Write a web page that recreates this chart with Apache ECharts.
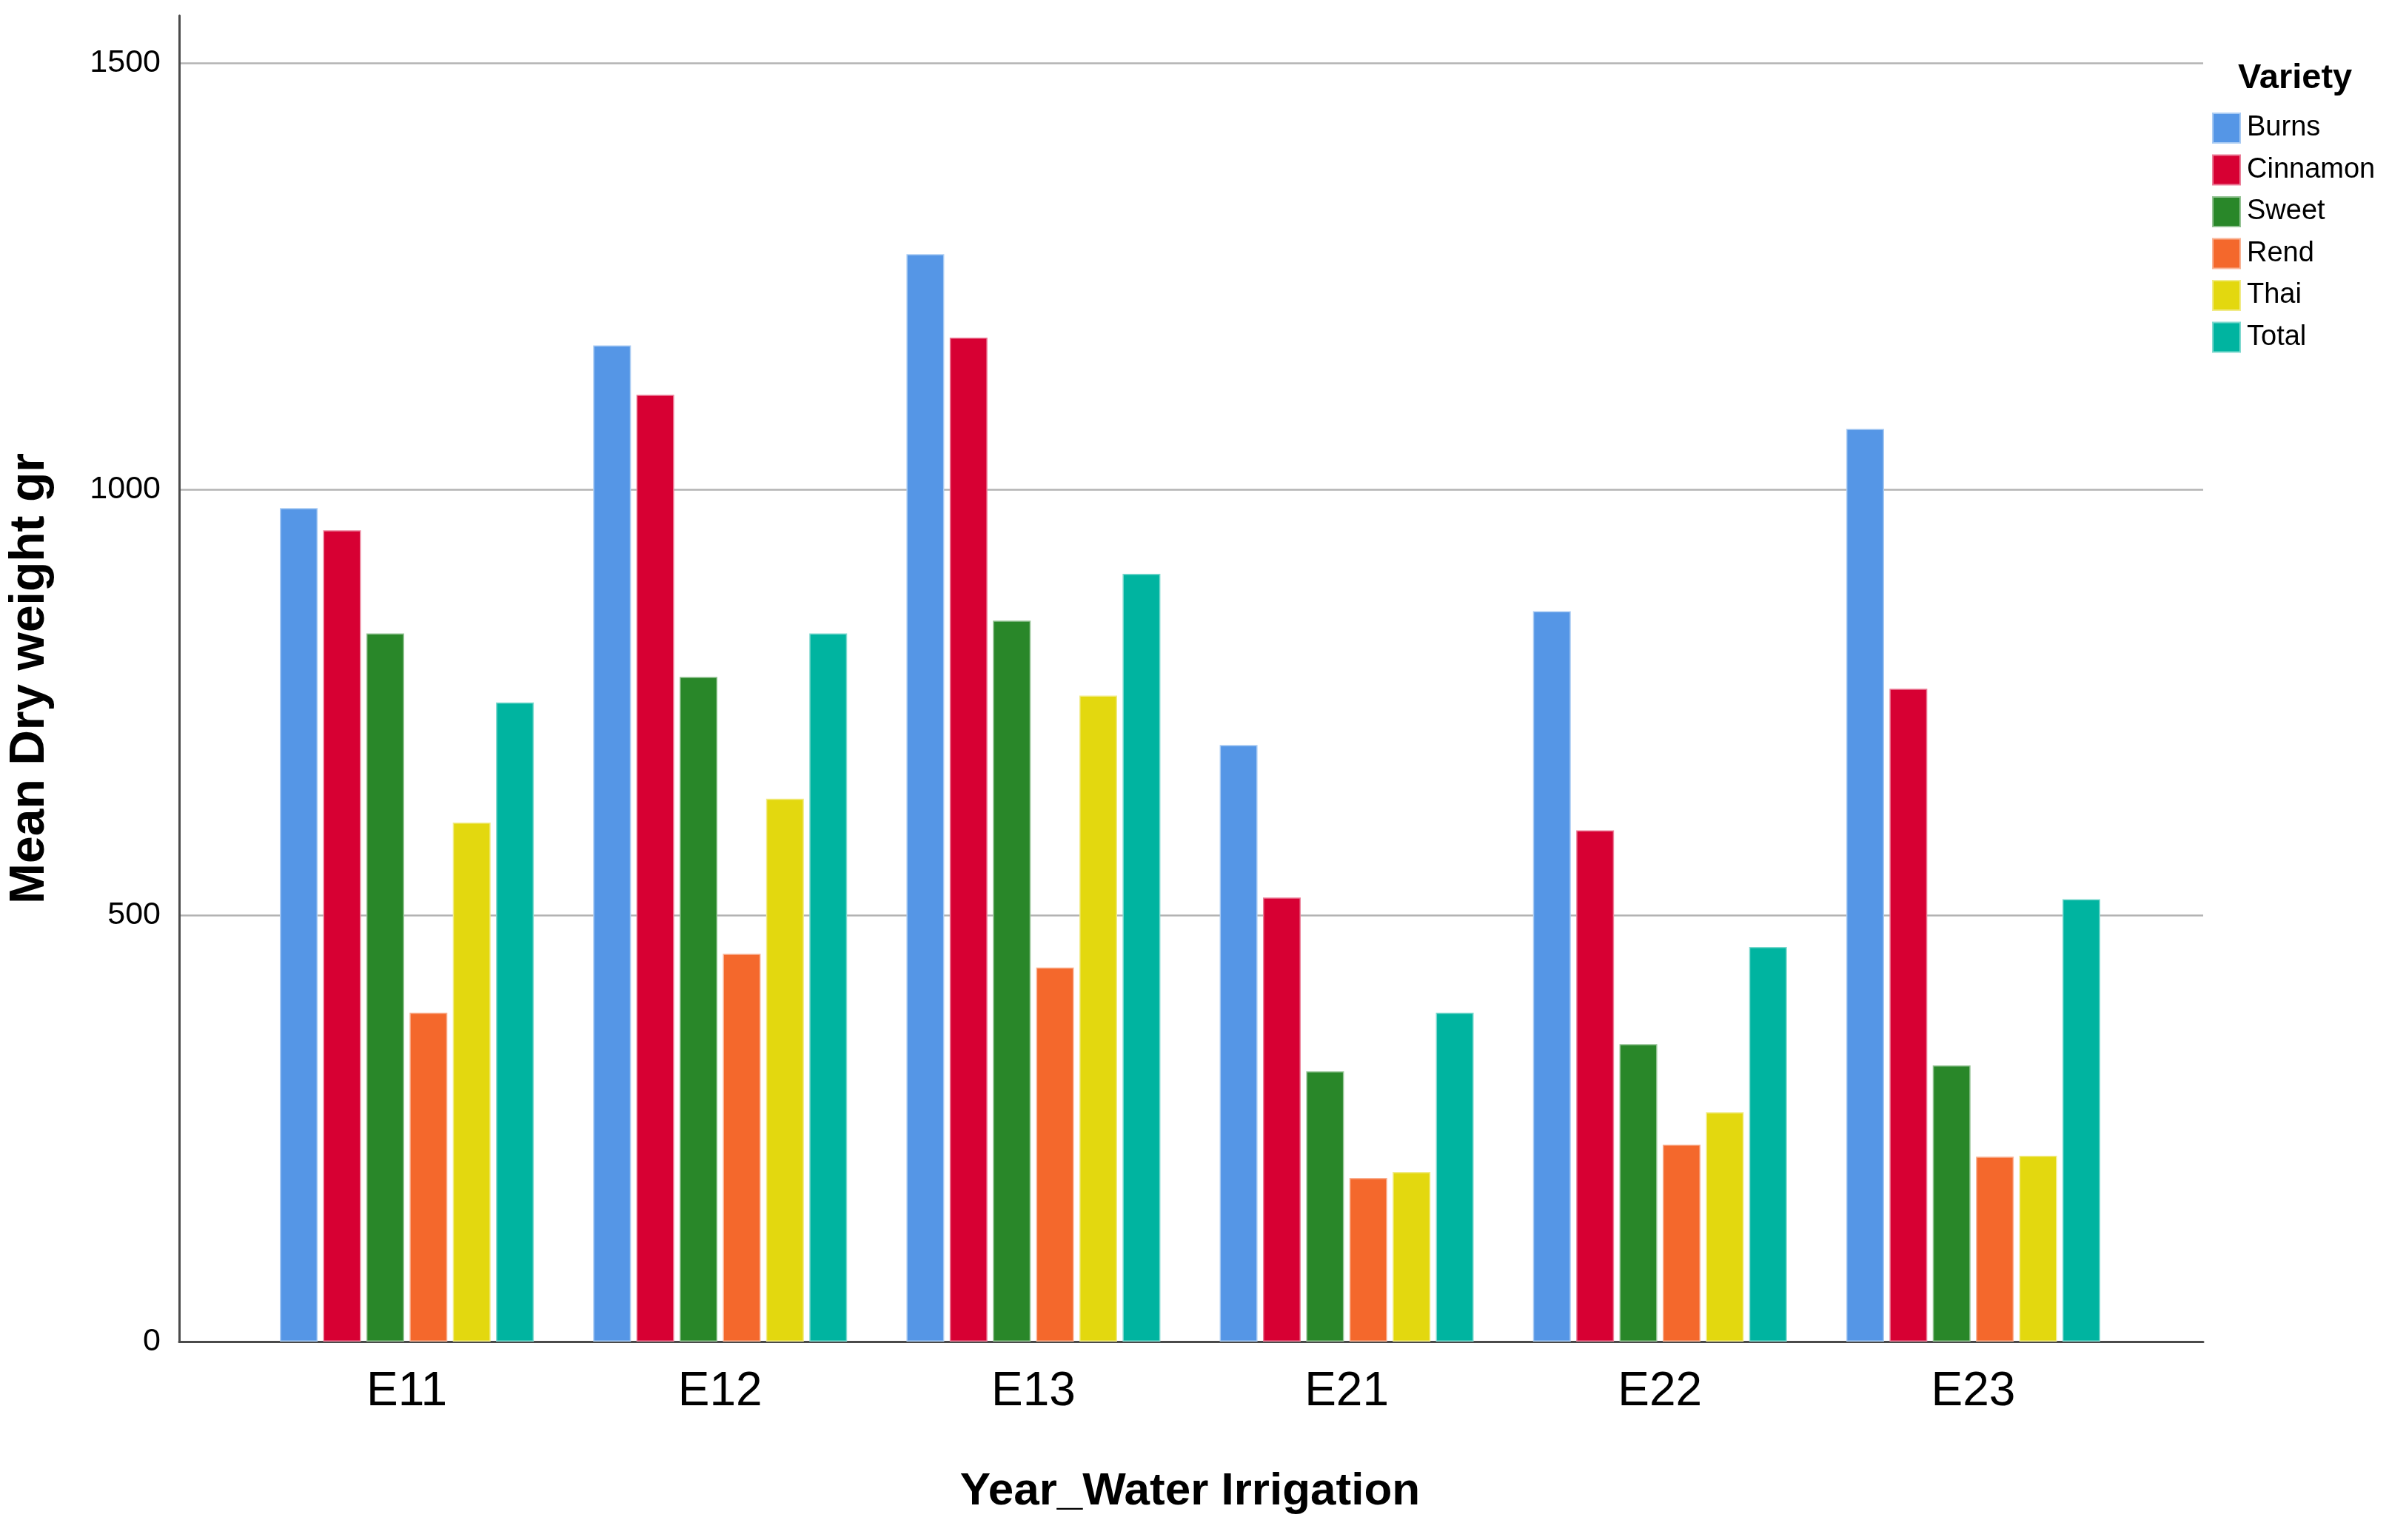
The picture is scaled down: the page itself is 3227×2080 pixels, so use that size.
<!DOCTYPE html>
<html>
<head>
<meta charset="utf-8">
<script src="https://cdn.jsdelivr.net/npm/echarts@6/dist/echarts.min.js"></script>
<style>
html,body{margin:0;padding:0;background:#fff;}
#chart{width:3227px;height:2080px;}
</style>
</head>
<body>
<div id="chart"></div>
<script>
var categories = ['E11', 'E12', 'E13', 'E21', 'E22', 'E23'];
var varieties = ['Burns', 'Cinnamon', 'Sweet', 'Rend', 'Thai', 'Total'];
var burns    = [978, 1169, 1276, 700, 857, 1071];
var cinnamon = [952, 1111, 1178, 521, 600, 766];
var sweet    = [831, 780, 846, 317, 349, 324];
var rend     = [386, 455, 439, 192, 231, 217];
var thai     = [609, 637, 758, 199, 269, 218];
var total    = [750, 831, 901, 386, 463, 519];
var yTicks   = [0, 500, 1000, 1500];

var colors = ['#5596E6', '#D70033', '#298729', '#F4682C', '#E3D80F', '#00B4A0'];
var borders = ['#A9CBF3', '#EB7F99', '#94C394', '#F9B395', '#F1EB87', '#7FD9CF'];
var seriesData = [burns, cinnamon, sweet, rend, thai, total];

var font = "'Liberation Sans',Arial,sans-serif";

var chart = echarts.init(document.getElementById('chart'), null, {renderer: 'canvas'});

var series = varieties.map(function (name, i) {
  return {
    name: name,
    type: 'bar',
    xAxisIndex: 1,
    yAxisIndex: 1,
    data: seriesData[i],
    barWidth: 51,
    barGap: '14.5%',
    itemStyle: {color: colors[i], borderColor: borders[i], borderWidth: 1.5},
    emphasis: {disabled: true},
    animation: false
  };
});

var yMax = 1556;

chart.setOption({
  animation: false,
  backgroundColor: '#ffffff',
  title: {
    text: 'Variety',
    left: 3018,
    top: 78,
    textStyle: {fontFamily: font, fontWeight: 'bold', fontSize: 47, color: '#000'}
  },
  legend: {
    data: varieties,
    orient: 'vertical',
    left: 2983,
    top: 147,
    icon: 'rect',
    itemWidth: 37,
    itemHeight: 40,
    itemGap: 14.5,
    textStyle: {fontFamily: font, fontSize: 38, color: '#000', padding: [0, 0, 0, 4]},
    selectedMode: false
  },
  grid: [
    {left: 239, right: 251, top: 21, bottom: 268, containLabel: false},
    {left: 338, right: 350, top: 21, bottom: 268, containLabel: false}
  ],
  xAxis: [
    {
      gridIndex: 0,
      type: 'value',
      min: 0,
      max: 1,
      axisLine: {show: true, onZero: false, lineStyle: {color: '#4a4a4a', width: 3}},
      axisTick: {show: false},
      axisLabel: {show: false},
      splitLine: {show: false}
    },
    {
      gridIndex: 1,
      type: 'category',
      data: categories,
      axisLine: {show: false},
      axisTick: {show: false},
      axisLabel: {fontFamily: font, fontSize: 64, color: '#000', margin: 36},
      name: 'Year_Water Irrigation',
      nameLocation: 'middle',
      nameGap: 172,
      nameTextStyle: {fontFamily: font, fontWeight: 'bold', fontSize: 62, color: '#000'}
    }
  ],
  yAxis: [
    {
      gridIndex: 0,
      type: 'value',
      min: 0,
      max: yMax,
      interval: 500,
      axisLine: {show: true, lineStyle: {color: '#4a4a4a', width: 3}},
      axisTick: {show: false},
      axisLabel: {
        fontFamily: font, fontSize: 43, color: '#000', margin: 25,
        showMaxLabel: false,
        formatter: function (v) { return yTicks.indexOf(v) >= 0 ? String(v) : ''; }
      },
      splitLine: {show: true, showMinLine: false, showMaxLine: false, lineStyle: {color: '#b3b3b3', width: 2.5}},
      name: 'Mean Dry weight gr',
      nameLocation: 'middle',
      nameGap: 168,
      nameRotate: 90,
      nameTextStyle: {fontFamily: font, fontWeight: 'bold', fontSize: 66, color: '#000'}
    },
    {
      gridIndex: 1,
      type: 'value',
      min: 0,
      max: yMax,
      interval: 500,
      show: false,
      splitLine: {show: false}
    }
  ],
  series: series
});
</script>
</body>
</html>
